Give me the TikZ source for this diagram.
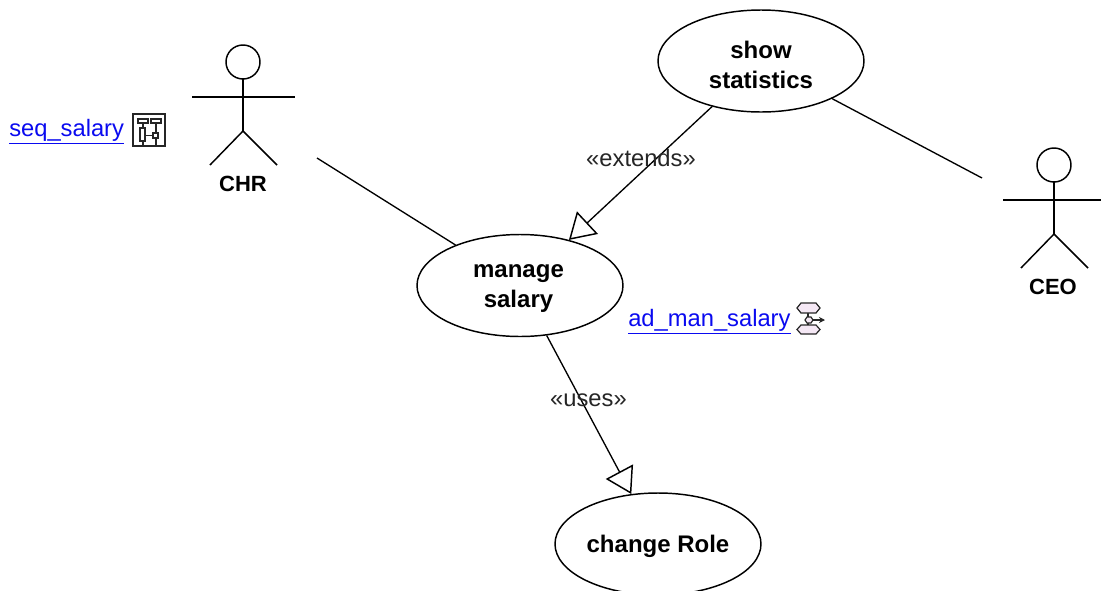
\documentclass[tikz,border=0pt]{standalone}
\usepackage{fontspec}
\setmainfont{Liberation Sans}
\usetikzlibrary{positioning}
\usetikzlibrary{shapes.geometric}
\usetikzlibrary{arrows.meta}
\definecolor{linkblue}{RGB}{10,10,240}
\definecolor{iconfill}{RGB}{245,232,245}
\tikzset{
 usecase/.style={ellipse,draw,line width=1.1pt,minimum width=154.5pt,minimum height=76.5pt,inner sep=0pt},
 usecasename/.style={align=center,inner sep=0pt,font=\fontsize{18}{22.5}\selectfont\bfseries},
 actorname/.style={font=\fontsize{16.5}{20}\selectfont\bfseries},
 stereotype/.style={font=\fontsize{17.8}{20}\selectfont,text=black!85},
 linktext/.style={font=\fontsize{17.8}{20}\selectfont,text=linkblue,inner sep=0pt},
 actorline/.style={line width=1.1pt},
 assoc/.style={line width=1pt},
 generalize/.style={line width=1pt,-{Triangle[open,length=19pt,width=23pt,line width=1.1pt]},shorten >=0pt},
 iconline/.style={line width=0.9pt,black!85}
}
\begin{document}
\begin{tikzpicture}[x=0.75pt,y=-0.75pt]
 \clip (0,0) rectangle (1101,590);
 \fill[white] (0,0) rectangle (1101,590);

 \node[usecase] (show) at (761,61) {};
 \node[usecase] (manage) at (520,285.5) {};
 \node[usecase] (role) at (658,544) {};
 \node[usecasename] (showname) at (761,65) {show\\statistics};
 \node[usecasename] (managename) at (518.5,289) {manage\\salary};
 \node[usecasename] (rolename) at (658,546) {change Role};

 \draw[actorline] (243,62) circle (17);
 \draw[actorline] (243,79)--(243,131);
 \draw[actorline] (192,97)--(295,97);
 \draw[actorline] (210,165)--(243,131)--(277,165);
 \node[actorname] (chr) at (243,184) {CHR};

 \draw[actorline] (1054,165) circle (17);
 \draw[actorline] (1054,182)--(1054,234);
 \draw[actorline] (1003,200)--(1101,200);
 \draw[actorline] (1021,268)--(1054,234)--(1088,268);
 \node[actorname] (ceo) at (1053,287) {CEO};

 \coordinate (chrend) at (317,158);
 \coordinate (ceoend) at (982,178);
 \draw[assoc] (chrend)--(manage);
 \draw[assoc] (show)--(ceoend);
 \draw[generalize] (show)--(manage);
 \draw[generalize] (manage)--(role);
 \node[stereotype] (extends) at (641,158) {«extends»};
 \node[stereotype] (uses) at (588.5,400) {«uses»};

 \node[linktext,anchor=west] (seqlink) at (9,131.5) {\underline{seq\_salary}};
 \node[linktext,anchor=west] (adlink) at (628,321.5) {\underline{ad\_man\_salary}};

 \draw[line width=1.2pt,black!85] (133,114) rectangle (165,146);
 \draw[iconline] (143,123)--(143,146);
 \draw[iconline] (156,123)--(156,146);
 \draw[iconline] (145,135.5)--(153,135.5);
 \draw[iconline,fill=white] (138,119) rectangle (148,123);
 \draw[iconline,fill=white] (151,119) rectangle (161,123);
 \draw[iconline,fill=white] (140,128) rectangle (145,141);
 \draw[iconline,fill=white] (153,133) rectangle (158,138);

 \draw[iconline] (808,313)--(808,325);
 \draw[iconline,-{Stealth[length=4.5pt,width=4.5pt]}] (813,320)--(825,320);
 \draw[iconline,fill=iconfill] (797,308)--(801,303)--(816,303)--(820,308)--(816,313)--(801,313)--cycle;
 \draw[iconline,fill=iconfill] (797,329.5)--(801,325)--(816,325)--(820,329.5)--(816,334)--(801,334)--cycle;
 \draw[iconline,fill=iconfill] (805,320)--(807,317)--(811,317)--(813,320)--(811,323)--(807,323)--cycle;
\end{tikzpicture}
\end{document}
